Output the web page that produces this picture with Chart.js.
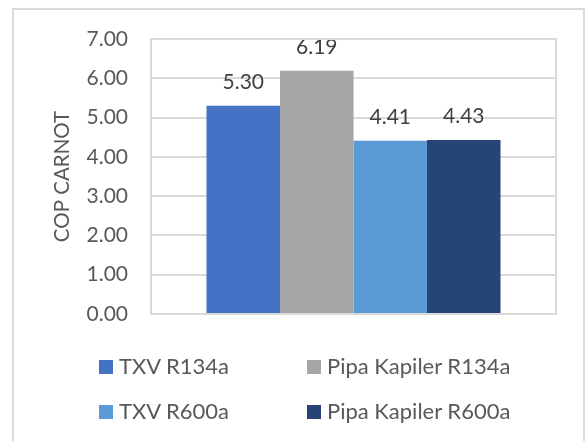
<!DOCTYPE html>
<html>
<head>
<meta charset="utf-8">
<script src="https://cdn.jsdelivr.net/npm/chart.js@4"></script>
<style>
  html, body { margin: 0; padding: 0; background: #fff; }
  #wrap { position: relative; width: 587px; height: 441px; overflow: hidden; }
  #frame { position: absolute; left: 12px; top: 8px; width: 573px; height: 460px; border: 2px solid #d9d9d9; box-sizing: border-box; }
  #chart { position: absolute; left: 0; top: 0; }
  .leg { position: absolute; font-family: Lato, sans-serif; font-size: 22px; color: #595959; line-height: 22px; white-space: nowrap; }
  .leg span { display: inline-block; width: 14px; height: 14px; margin-right: 6px; vertical-align: 0px; }
</style>
</head>
<body>
<div id="wrap">
  <div id="frame"></div>
  <canvas id="chart" width="587" height="441"></canvas>
  <div id="legend"></div>
</div>
<script>
// values
const categories = ['COP'];
const seriesNames = ['TXV R134a', 'Pipa Kapiler R134a', 'TXV R600a', 'Pipa Kapiler R600a'];
const seriesValues = [5.30, 6.19, 4.41, 4.43];
const seriesColors = ['#4472C4', '#A5A5A5', '#5B9BD5', '#264478'];
const yTicks = [0, 1, 2, 3, 4, 5, 6, 7];
const axisTitle = 'COP CARNOT';

const FONT = 'Lato, sans-serif';

// legend, two columns like the original
const legendPos = [[99, 355], [307, 355], [99, 400], [307, 400]];
const legendEl = document.getElementById('legend');
seriesNames.forEach((name, i) => {
    const d = document.createElement('div');
    d.className = 'leg';
    d.style.left = legendPos[i][0] + 'px';
    d.style.top = legendPos[i][1] + 'px';
    d.innerHTML = '<span style="background:' + seriesColors[i] + '"></span>' + name;
    legendEl.appendChild(d);
});

const valueLabels = {
    id: 'valueLabels',
    afterDatasetsDraw(chart) {
        const c = chart.ctx;
        c.save();
        c.font = '21px ' + FONT;
        c.fillStyle = '#404040';
        c.textAlign = 'center';
        c.textBaseline = 'middle';
        chart.data.datasets.forEach((ds, i) => {
            chart.getDatasetMeta(i).data.forEach((bar, j) => {
                c.fillText(ds.data[j].toFixed(2), bar.x, bar.y - 24);
            });
        });
        c.restore();
    }
};

const plotBox = {
    id: 'plotBox',
    afterDraw(chart) {
        const a = chart.chartArea;
        const c = chart.ctx;
        c.save();
        c.strokeStyle = '#d9d9d9';
        c.lineWidth = 2;
        c.strokeRect(a.left, a.top, a.right - a.left, a.bottom - a.top);
        c.restore();
    }
};

const ctx = document.getElementById('chart');
const chart = new Chart(ctx, {
    type: 'bar',
    data: {
        labels: categories,
        datasets: seriesNames.map((name, i) => ({
            label: name,
            data: [seriesValues[i]],
            backgroundColor: seriesColors[i],
            categoryPercentage: 0.726,
            barPercentage: 1
        }))
    },
    options: {
        responsive: false,
        animation: false,
        layout: { padding: { left: 40, top: 39, right: 31, bottom: 127 } },
        plugins: {
            legend: { display: false },
            tooltip: { enabled: false }
        },
        scales: {
            x: {
                ticks: { display: false },
                grid: { display: false, drawTicks: false },
                border: { display: false },
                afterFit: (s) => { s.height = 0; }
            },
            y: {
                min: 0,
                max: 7,
                afterBuildTicks: (s) => { s.ticks = yTicks.map(v => ({ value: v })); },
                afterFit: (s) => { s.width = 111; },
                ticks: {
                    padding: 23,
                    color: '#595959',
                    font: { family: FONT, size: 21 },
                    callback: (v) => Number(v).toFixed(2)
                },
                grid: { color: '#d9d9d9', lineWidth: 2, drawTicks: false },
                border: { display: false },
                title: {
                    display: true,
                    text: axisTitle,
                    color: '#595959',
                    font: { family: FONT, size: 20.5 },
                    padding: { top: 10 }
                }
            }
        }
    },
    plugins: [valueLabels, plotBox]
});
</script>
</body>
</html>
